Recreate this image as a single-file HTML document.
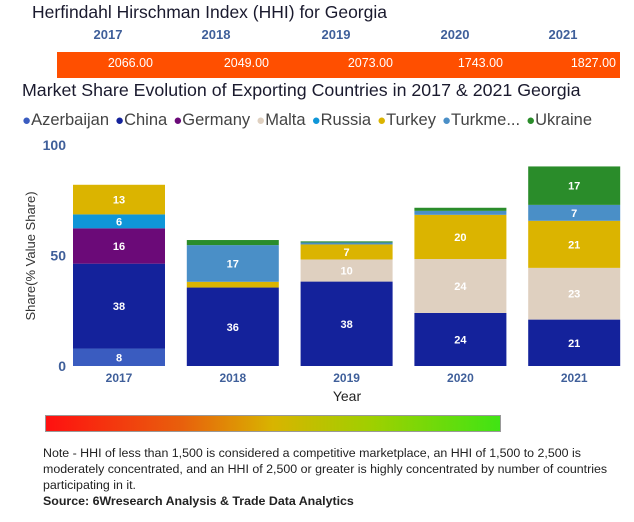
<!DOCTYPE html>
<html><head><meta charset="utf-8">
<style>
body{margin:0;width:634px;height:522px;background:#fff;font-family:"Liberation Sans","DejaVu Sans",sans-serif;position:relative;overflow:hidden}
.abs{position:absolute;white-space:nowrap}
</style></head><body>
<div class="abs" style="left:32px;top:2px;font-size:17.5px;color:#1a1a2e">Herfindahl Hirschman Index (HHI) for Georgia</div>
<div id="hhi"></div>
<div class="abs" style="left:22px;top:80px;font-size:17.8px;color:#1a1a2e">Market Share Evolution of Exporting Countries in 2017 &amp; 2021 Georgia</div>
<div id="legend" class="abs" style="left:22px;top:111px;font-size:16.5px;color:#444"></div>
<svg id="chart" width="634" height="522" style="position:absolute;left:0;top:0;pointer-events:none"></svg>
<div style="position:absolute;left:45px;top:415px;width:456px;height:17px;background:linear-gradient(to right,#ff1010,#e8600c 30%,#d8b400 50%,#9ed000 72%,#40e414);border:1px solid #999;box-sizing:border-box"></div>
<div class="abs" style="left:43px;top:445px;font-size:12.4px;line-height:16px;color:#222;white-space:normal;width:590px">Note - HHI of less than 1,500 is considered a competitive marketplace, an HHI of 1,500 to 2,500 is moderately concentrated, and an HHI of 2,500 or greater is highly concentrated by number of countries participating in it.<br><b>Source: 6Wresearch Analysis &amp; Trade Data Analytics</b></div>
<script>
const years=["2017","2018","2019","2020","2021"];
const hhiValues=[2066.00,2049.00,2073.00,1743.00,1827.00];
const countries=["Azerbaijan","China","Germany","Malta","Russia","Turkey","Turkme...","Ukraine"];
const colors=["#3a5cc0","#14229b","#6b0a78","#dfd0c0","#0f96d8","#dbb400","#4a8fc7","#2a8c2a"];
const azerbaijan=[7.9,0,0,0,0];
const china=[38.4,35.5,38.2,24,21];
const germany=[16,0,0,0,0];
const malta=[0,0,10,24.4,23.4];
const russia=[6.3,0,0,0,0];
const turkey=[13.4,2.6,6.8,20,21.3];
const turkmen=[0,16.6,0.9,1.8,7.2];
const ukraine=[0,2.3,0.5,1.4,17.4];
const series=[azerbaijan,china,germany,malta,russia,turkey,turkmen,ukraine];
const yTicks=[0,50,100];

const hhi=document.getElementById('hhi');
const bar=document.createElement('div');


bar.style.cssText='position:absolute;left:57px;top:52px;width:563px;height:26px;background:#ff4f00';
hhi.appendChild(bar);
const yc=[108,216,336,455,563], ve=[153,269,393,503,616];
years.forEach((y,i)=>{
 const t=document.createElement('div');t.className='abs';
 
 
 t.style.cssText=`left:${yc[i]-30}px;width:60px;text-align:center;top:27px;font-size:13px;font-weight:bold;color:#3f5f9a`;
 t.textContent=y;hhi.appendChild(t);
 const v=document.createElement('div');v.className='abs';
 
 
 v.style.cssText=`left:${ve[i]-80}px;width:80px;text-align:right;top:56px;font-size:12.5px;color:#fff`;
 v.textContent=hhiValues[i].toFixed(2);hhi.appendChild(v);
});
const lg=document.getElementById('legend');
countries.forEach((c,i)=>{
 const s=document.createElement('span');
 
 
 s.style.marginRight='6px';
 s.innerHTML=`<span style="color:${colors[i]};font-size:15px">●</span>${c}`;
 lg.appendChild(s);
});
const svg=document.getElementById('chart');const NS='http://www.w3.org/2000/svg';
const y0=366,pxu=2.21,x0=73,step=113.8,bw=92;
const yS=v=>y0-v*pxu, xS=i=>x0+i*step;
function el(tag,attrs,txt){const e=document.createElementNS(NS,tag);for(const k in attrs)e.setAttribute(k,attrs[k]);if(txt!=null)e.textContent=txt;svg.appendChild(e);return e;}
yTicks.forEach(t=>{
 const e=el('text',{x:66,y:yS(t)+5,'text-anchor':'end','font-size':14,'font-weight':'bold',fill:'#3f5f9a'},t);
 
 
});
const yt=el('text',{x:0,y:0,transform:'translate(35,256) rotate(-90)','text-anchor':'middle','font-size':13,fill:'#333'},'Share(% Value Share)');


years.forEach((yr,i)=>{
 let cum=0;
 series.forEach((s,k)=>{
  const v=s[i]; if(!v)return;
  const r=el('rect',{x:xS(i),y:yS(cum+v),width:bw,height:v*pxu,fill:colors[k]});
  
  
  if(v>=5){
   const lb=el('text',{x:xS(i)+bw/2,y:yS(cum+v/2)+4,'text-anchor':'middle','font-size':11,'font-weight':'bold',fill:'#fff'},Math.round(v));
   
   
  }
  cum+=v;
 });
 const xl=el('text',{x:xS(i)+bw/2,y:382,'text-anchor':'middle','font-size':12,'font-weight':'bold',fill:'#3f5f9a'},yr);
 
 
});
const xt=el('text',{x:347,y:401,'text-anchor':'middle','font-size':14,fill:'#222'},'Year');


</script>
</body></html>
